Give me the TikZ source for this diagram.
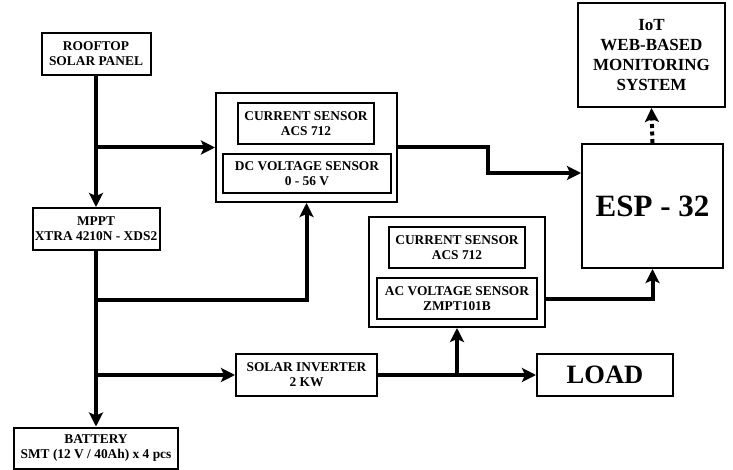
\documentclass[tikz,border=0pt]{standalone}
\usepackage{fontspec}
\setmainfont{Liberation Serif}
\usetikzlibrary{arrows.meta}

\begin{document}
\begin{tikzpicture}[x=1pt, y=-1pt,
    block/.style={draw, rectangle, line width=2pt, inner sep=0pt,
                  align=center, font=\fontsize{13.4}{15}\selectfont\bfseries},
    inbox/.style={draw, rectangle, line width=1.4pt, inner sep=0pt,
                  align=center, font=\fontsize{13.4}{15}\selectfont\bfseries},
    wire/.style={line width=4pt, -{Stealth[length=14pt, width=14pt, inset=3pt]}}]

    \useasboundingbox (0,0) rectangle (733,470);

    % power side
    \node[block, minimum width=109pt, minimum height=42pt] (panel) at (96, 54)
        {ROOFTOP\\SOLAR PANEL};
    \node[block, minimum width=127pt, minimum height=42pt] (mppt) at (96, 229)
        {MPPT\\XTRA 4210N - XDS2};
    \node[block, minimum width=164pt, minimum height=41pt] (battery) at (96, 448)
        {BATTERY\\SMT (12 V / 40Ah) x 4 pcs};
    \node[block, minimum width=141pt, minimum height=42pt] (inverter) at (306.5, 375)
        {SOLAR INVERTER\\2 KW};
    \node[block, minimum width=136pt, minimum height=42pt,
          font=\fontsize{26.5}{28}\selectfont\bfseries] (load) at (605, 375) {LOAD};

    % sensor groups
    \node[block, minimum width=181pt, minimum height=109pt] (dcbox) at (306.5, 147.5) {};
    \node[inbox, minimum width=136pt, minimum height=41pt] (dccur) at (306, 123.5)
        {CURRENT SENSOR\\ACS 712};
    \node[inbox, minimum width=168pt, minimum height=39pt] (dcvolt) at (307, 173.5)
        {DC VOLTAGE SENSOR\\0 - 56 V};

    \node[block, minimum width=176pt, minimum height=110pt] (acbox) at (457, 272) {};
    \node[inbox, minimum width=136pt, minimum height=41pt] (accur) at (457, 247.5)
        {CURRENT SENSOR\\ACS 712};
    \node[inbox, minimum width=160pt, minimum height=41pt] (acvolt) at (457, 298.5)
        {AC VOLTAGE SENSOR\\ZMPT101B};

    % controller and cloud
    \node[block, minimum width=141pt, minimum height=124pt,
          font=\fontsize{31}{34}\selectfont\bfseries] (esp) at (652.5, 206) {ESP - 32};
    \node[block, minimum width=147pt, minimum height=104pt,
          font=\fontsize{17}{20}\selectfont\bfseries] (iot) at (651.5, 55)
        {IoT\\WEB-BASED\\MONITORING\\SYSTEM};

    \coordinate (j1) at (panel.south |- dcbox.west);
    \coordinate (j2) at (96, 300);
    \coordinate (j3) at (mppt.south |- inverter.west);
    \coordinate (j4) at (acbox.south |- inverter.east);

    \draw[wire] (panel.south) -- (mppt.north);
    \draw[wire] (j1) -- (dcbox.west);
    \draw[wire] (mppt.south) -- (battery.north);
    \draw[wire] (j2) -| (dcbox.south);
    \draw[wire] (j3) -- (inverter.west);
    \draw[wire] (inverter.east) -- (load.west);
    \draw[wire] (j4) -- (acbox.south);
    \draw[wire] (dcbox.east) -- (488, 147.5) |- (esp.west |- 0, 173);
    \draw[wire] (acbox.east |- 0, 299) -| (esp.south);
    \draw[line width=4pt, dash pattern=on 4pt off 3.5pt,
          -{Stealth[length=14pt, width=14pt, inset=3pt]}] (esp.north) -- (iot.south);

\end{tikzpicture}
\end{document}
